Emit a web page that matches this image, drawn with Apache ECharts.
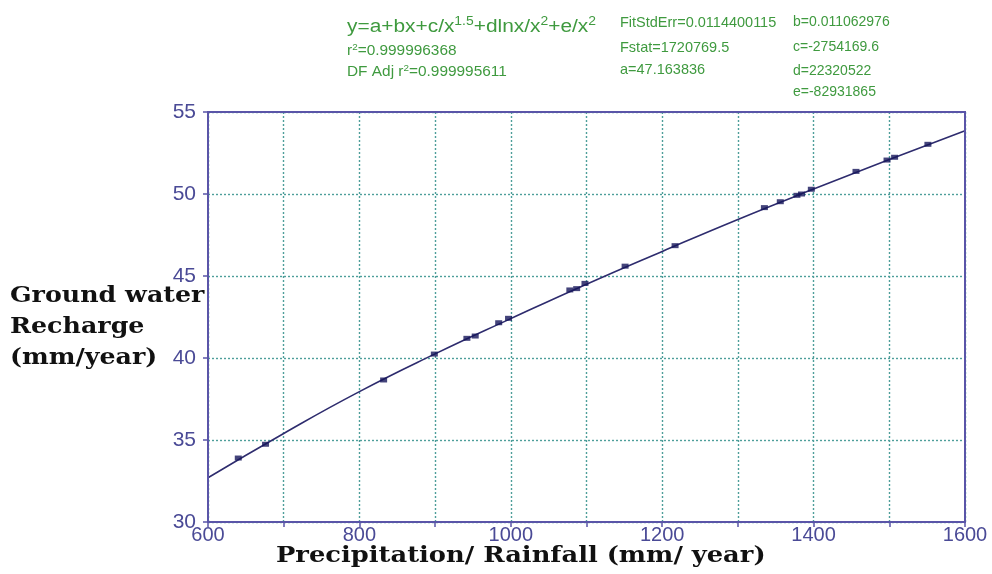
<!DOCTYPE html>
<html>
<head>
<meta charset="utf-8">
<script src="https://cdn.jsdelivr.net/npm/echarts@6/dist/echarts.min.js"></script>
<style>
html,body{margin:0;padding:0;background:#fff;}
#chart{width:992px;height:574px;}
</style>
</head>
<body>
<div id="chart"></div>
<script>
// Observed data points (rainfall mm/year, recharge mm/year)
const rainfall = [640, 676, 832, 899, 942, 953, 984, 997, 1078, 1087, 1098, 1151, 1217, 1335, 1356, 1378, 1384, 1397, 1456, 1497, 1507, 1551];
const recharge = [33.9, 34.74, 38.66, 40.24, 41.2, 41.34, 42.15, 42.42, 44.15, 44.23, 44.55, 45.6, 46.85, 49.17, 49.53, 49.92, 50.0, 50.29, 51.38, 52.07, 52.24, 53.03];
// Fitted curve
const curveX = [600, 700, 800, 900, 1000, 1100, 1200, 1300, 1400, 1500, 1600];
const curveY = [32.7, 35.4, 37.95, 40.25, 42.4, 44.5, 46.5, 48.45, 50.3, 52.1, 53.85];
// Axis ticks
const xTicks = [600, 800, 1000, 1200, 1400, 1600];
const yTicks = [30, 35, 40, 45, 50, 55];

const green = '#3f9a3f';
const axisColor = '#5a55a8';
const labelColor = '#4a4a96';
const sans = 'Arial, "Liberation Sans", sans-serif';

const chart = echarts.init(document.getElementById('chart'));
const txt = (x, y, text, size) => ({
  type: 'text', left: x, top: y,
  style: { text: text, fill: green, font: size + 'px ' + sans }
});
const gridLine = { show: true, lineStyle: { color: '#4e9e9a', type: [2, 2], width: 1.4 } };
chart.setOption({
  animation: false,
  backgroundColor: '#fff',
  grid: { left: 208, right: 27, top: 112, bottom: 52 },
  xAxis: {
    type: 'value', min: 600, max: 1600, interval: 100,
    axisLine: { lineStyle: { color: axisColor, width: 2 } },
    axisTick: { show: true, length: 5, lineStyle: { color: axisColor, width: 1.5 } },
    axisLabel: {
      color: labelColor, fontSize: 20, fontFamily: sans, margin: 3,
      formatter: v => xTicks.indexOf(v) >= 0 ? String(v) : ''
    },
    splitLine: gridLine
  },
  yAxis: {
    type: 'value', min: 30, max: 55, interval: 5,
    axisLine: { show: true, lineStyle: { color: axisColor, width: 2 } },
    axisTick: { show: true, length: 5, lineStyle: { color: axisColor, width: 1.5 } },
    axisLabel: {
      color: labelColor, fontSize: 21, fontFamily: sans, margin: 12,
      formatter: v => yTicks.indexOf(v) >= 0 ? String(v) : ''
    },
    splitLine: gridLine
  },
  graphic: [
    { type: 'rect', shape: { x: 208, y: 112, width: 757, height: 410 }, style: { fill: 'none', stroke: axisColor, lineWidth: 2 }, silent: true, z: 10 },
    {
      type: 'text', x: 347, y: 11, scaleX: 1.16,
      style: {
        text: '{n|y=a+bx+c/x}{s|1.5}{n|+dlnx/x}{s|2}{n|+e/x}{s|2}',
        rich: {
          n: { fill: green, fontSize: 18, fontFamily: sans, height: 22 },
          s: { fill: green, fontSize: 12, fontFamily: sans, height: 22, padding: [0, 0, 10, 0] }
        }
      }
    },
    {
      type: 'text', x: 347, y: 43, scaleX: 1.1,
      style: {
        text: '{n|r}{s|2}{n|=0.999996368}',
        rich: {
          n: { fill: green, fontSize: 14, fontFamily: sans },
          s: { fill: green, fontSize: 9, fontFamily: sans, padding: [0, 0, 7, 0] }
        }
      }
    },
    {
      type: 'text', x: 347, y: 64, scaleX: 1.1,
      style: {
        text: '{n|DF Adj r}{s|2}{n|=0.999995611}',
        rich: {
          n: { fill: green, fontSize: 14, fontFamily: sans },
          s: { fill: green, fontSize: 9, fontFamily: sans, padding: [0, 0, 7, 0] }
        }
      }
    },
    txt(620, 15, 'FitStdErr=0.0114400115', 14.5),
    txt(620, 40, 'Fstat=1720769.5', 14.5),
    txt(620, 62, 'a=47.163836', 14.5),
    txt(793, 15, 'b=0.011062976', 14),
    txt(793, 40, 'c=-2754169.6', 14),
    txt(793, 64, 'd=22320522', 14),
    txt(793, 85, 'e=-82931865', 14),
    {
      type: 'text', x: 10, y: 281, scaleX: 1.1,
      style: {
        text: 'Ground water\nRecharge\n(mm/year)', fill: '#111',
        font: 'bold 23px "DejaVu Serif", serif', lineHeight: 31
      }
    },
    {
      type: 'text', x: 276, y: 545, scaleX: 1.12,
      style: {
        text: 'Precipitation/ Rainfall (mm/ year)', fill: '#111',
        font: 'bold 23px "DejaVu Serif", serif'
      }
    }
  ],
  series: [
    {
      type: 'line', data: curveX.map((x, i) => [x, curveY[i]]), smooth: true, showSymbol: false,
      lineStyle: { color: '#2e2c6e', width: 1.6 }, z: 3
    },
    {
      type: 'scatter', data: rainfall.map((x, i) => [x, recharge[i]]), symbol: 'rect', symbolSize: [7, 5],
      itemStyle: { color: '#15155a' }, z: 4
    }
  ]
});
</script>
</body>
</html>
